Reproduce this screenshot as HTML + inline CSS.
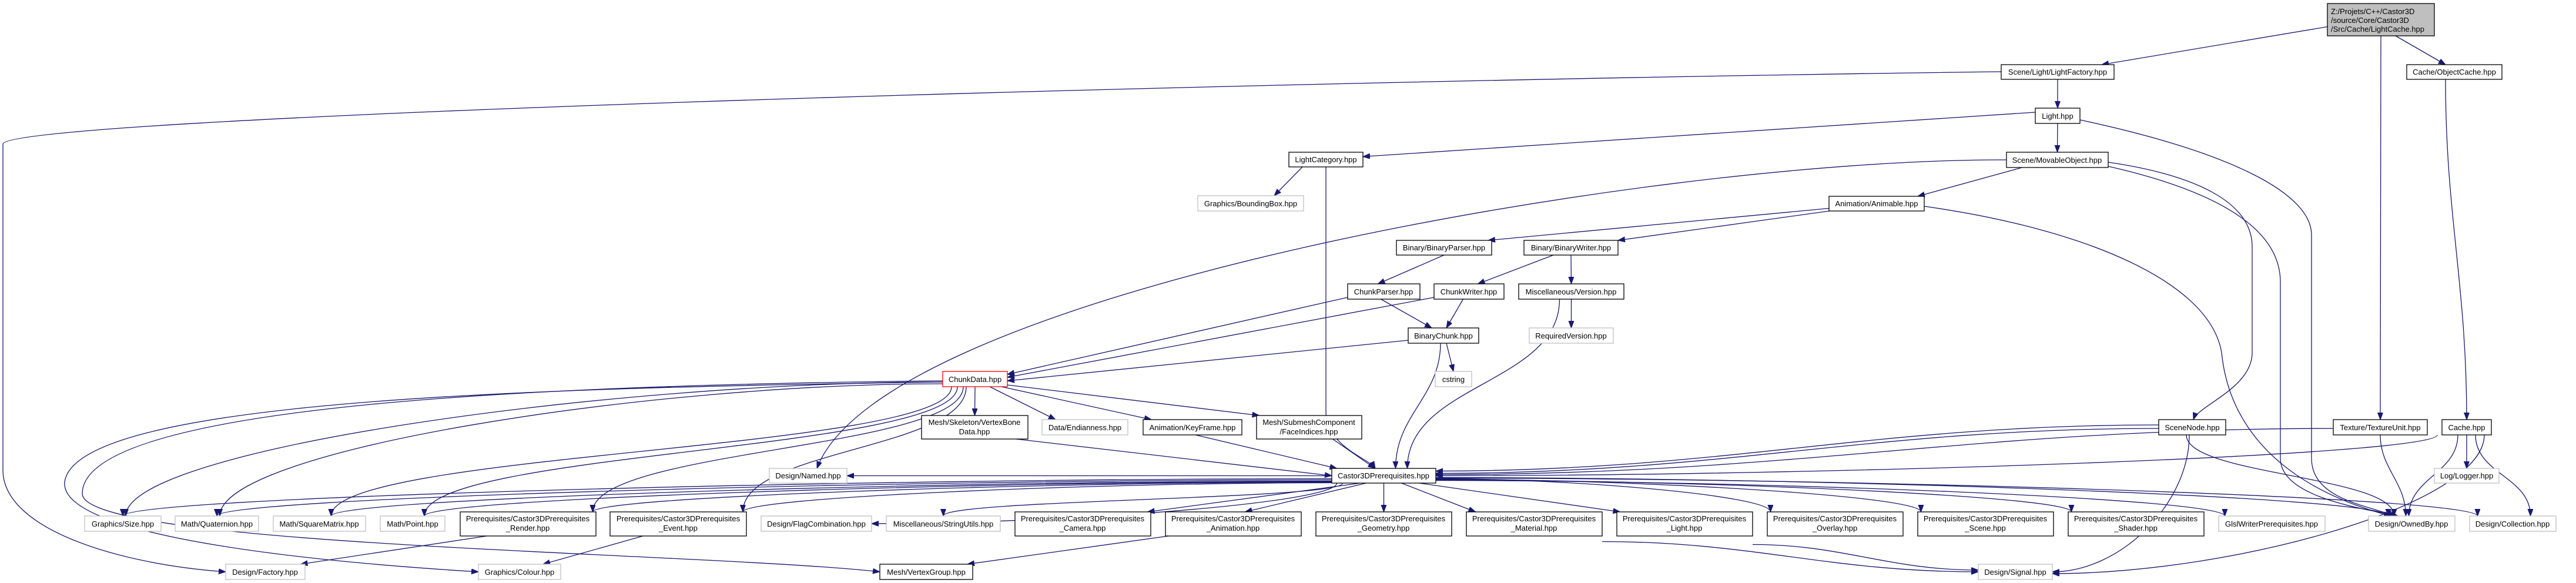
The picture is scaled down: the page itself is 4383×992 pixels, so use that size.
<!DOCTYPE html>
<html><head><meta charset="utf-8"><style>
html,body{margin:0;padding:0;background:#fff;width:4383px;height:992px;overflow:hidden}
svg{display:block;overflow:hidden}
text{font-family:"Liberation Sans",Arial,sans-serif;font-size:13px;fill:#000;text-anchor:middle}
.n{fill:#fff;stroke:#000;stroke-width:1.3}
.g{fill:#fff;stroke:#bfbfbf;stroke-width:1.3}
.r{fill:#fff;stroke:#ff0000;stroke-width:1.3}
.root{fill:#bfbfbf;stroke:#000;stroke-width:1.3}
.e{fill:none;stroke:#191970;stroke-width:1.3}
</style></head><body>
<svg id="s" width="4383" height="992" viewBox="0 0 4383 992" xmlns="http://www.w3.org/2000/svg">
<defs><marker id="a" markerUnits="userSpaceOnUse" markerWidth="13" markerHeight="10" refX="12" refY="4.5" orient="auto"><path d="M0,0 L12,4.5 L0,9 z" fill="#191970" stroke="#191970"/></marker></defs>
<g id="edges"></g>
<g id="nodes">
<rect class="root" x="3960" y="6" width="182" height="55"/>
<text x="3966" y="24" style="text-anchor:start">Z:/Projets/C++/Castor3D</text>
<text x="3966" y="39" style="text-anchor:start">/source/Core/Castor3D</text>
<text x="3966" y="54" style="text-anchor:start">/Src/Cache/LightCache.hpp</text>

<rect class="n" x="3405" y="110" width="192" height="25"/><text x="3501" y="127">Scene/Light/LightFactory.hpp</text>
<rect class="n" x="4095" y="110" width="162" height="25"/><text x="4176" y="127">Cache/ObjectCache.hpp</text>
<rect class="n" x="3463" y="184" width="76" height="26"/><text x="3501" y="202">Light.hpp</text>
<rect class="n" x="3414" y="259" width="173" height="26"/><text x="3500" y="277">Scene/MovableObject.hpp</text>
<rect class="n" x="2193" y="259" width="126" height="25"/><text x="2256" y="276">LightCategory.hpp</text>
<rect class="g" x="2038" y="333" width="180" height="26"/><text x="2128" y="351">Graphics/BoundingBox.hpp</text>
<rect class="n" x="3112" y="334" width="162" height="25"/><text x="3193" y="351">Animation/Animable.hpp</text>
<rect class="n" x="2376" y="409" width="162" height="25"/><text x="2457" y="426">Binary/BinaryParser.hpp</text>
<rect class="n" x="2593" y="409" width="160" height="25"/><text x="2673" y="426">Binary/BinaryWriter.hpp</text>
<rect class="n" x="2293" y="483" width="123" height="26"/><text x="2354" y="501">ChunkParser.hpp</text>
<rect class="n" x="2440" y="483" width="119" height="26"/><text x="2499" y="501">ChunkWriter.hpp</text>
<rect class="n" x="2584" y="483" width="179" height="26"/><text x="2673" y="501">Miscellaneous/Version.hpp</text>
<rect class="n" x="2396" y="558" width="120" height="26"/><text x="2456" y="576">BinaryChunk.hpp</text>
<rect class="g" x="2602" y="558" width="143" height="26"/><text x="2673" y="576">RequiredVersion.hpp</text>
<rect class="g" x="2442" y="632" width="62" height="26"/><text x="2473" y="650">cstring</text>
<rect class="r" x="1604" y="632" width="110" height="26"/><text x="1659" y="650">ChunkData.hpp</text>

<rect class="n" x="1568" y="707" width="181" height="40"/><text x="1658" y="723">Mesh/Skeleton/VertexBone</text><text x="1658" y="739">Data.hpp</text>
<rect class="g" x="1773" y="714" width="146" height="26"/><text x="1846" y="732">Data/Endianness.hpp</text>
<rect class="n" x="1945" y="714" width="168" height="26"/><text x="2029" y="732">Animation/KeyFrame.hpp</text>
<rect class="n" x="2138" y="707" width="179" height="40"/><text x="2227" y="723">Mesh/SubmeshComponent</text><text x="2227" y="739">/FaceIndices.hpp</text>
<rect class="n" x="3673" y="714" width="114" height="26"/><text x="3730" y="732">SceneNode.hpp</text>
<rect class="n" x="3970" y="714" width="160" height="26"/><text x="4050" y="732">Texture/TextureUnit.hpp</text>
<rect class="n" x="4155" y="714" width="84" height="26"/><text x="4197" y="732">Cache.hpp</text>

<rect class="g" x="1309" y="797" width="132" height="25"/><text x="1375" y="814">Design/Named.hpp</text>
<rect class="n" x="2266" y="797" width="177" height="25"/><text x="2354" y="814">Castor3DPrerequisites.hpp</text>
<rect class="g" x="4142" y="797" width="110" height="25"/><text x="4197" y="814">Log/Logger.hpp</text>

<rect class="g" x="144" y="878" width="130" height="26"/><text x="209" y="896">Graphics/Size.hpp</text>
<rect class="g" x="298" y="878" width="142" height="26"/><text x="369" y="896">Math/Quaternion.hpp</text>
<rect class="g" x="465" y="878" width="157" height="26"/><text x="543" y="896">Math/SquareMatrix.hpp</text>
<rect class="g" x="647" y="878" width="110" height="26"/><text x="702" y="896">Math/Point.hpp</text>
<rect class="n" x="783" y="871" width="231" height="41"/><text x="898" y="887">Prerequisites/Castor3DPrerequisites</text><text x="898" y="903">_Render.hpp</text>
<rect class="n" x="1038" y="871" width="232" height="41"/><text x="1154" y="887">Prerequisites/Castor3DPrerequisites</text><text x="1154" y="903">_Event.hpp</text>
<rect class="g" x="1295" y="878" width="188" height="26"/><text x="1389" y="896">Design/FlagCombination.hpp</text>
<rect class="g" x="1508" y="878" width="194" height="26"/><text x="1605" y="896">Miscellaneous/StringUtils.hpp</text>
<rect class="n" x="1727" y="871" width="231" height="41"/><text x="1842" y="887">Prerequisites/Castor3DPrerequisites</text><text x="1842" y="903">_Camera.hpp</text>
<rect class="n" x="1983" y="871" width="231" height="41"/><text x="2098" y="887">Prerequisites/Castor3DPrerequisites</text><text x="2098" y="903">_Animation.hpp</text>
<rect class="n" x="2239" y="871" width="231" height="41"/><text x="2354" y="887">Prerequisites/Castor3DPrerequisites</text><text x="2354" y="903">_Geometry.hpp</text>
<rect class="n" x="2495" y="871" width="231" height="41"/><text x="2610" y="887">Prerequisites/Castor3DPrerequisites</text><text x="2610" y="903">_Material.hpp</text>
<rect class="n" x="2751" y="871" width="231" height="41"/><text x="2866" y="887">Prerequisites/Castor3DPrerequisites</text><text x="2866" y="903">_Light.hpp</text>
<rect class="n" x="3007" y="871" width="231" height="41"/><text x="3122" y="887">Prerequisites/Castor3DPrerequisites</text><text x="3122" y="903">_Overlay.hpp</text>
<rect class="n" x="3263" y="871" width="231" height="41"/><text x="3378" y="887">Prerequisites/Castor3DPrerequisites</text><text x="3378" y="903">_Scene.hpp</text>
<rect class="n" x="3519" y="871" width="231" height="41"/><text x="3634" y="887">Prerequisites/Castor3DPrerequisites</text><text x="3634" y="903">_Shader.hpp</text>
<rect class="g" x="3775" y="878" width="181" height="26"/><text x="3865" y="896">GlslWriterPrerequisites.hpp</text>
<rect class="g" x="4030" y="878" width="147" height="26"/><text x="4103" y="896">Design/OwnedBy.hpp</text>
<rect class="g" x="4202" y="878" width="147" height="26"/><text x="4275" y="896">Design/Collection.hpp</text>

<rect class="g" x="384" y="960" width="135" height="26"/><text x="451" y="978">Design/Factory.hpp</text>
<rect class="g" x="814" y="960" width="140" height="26"/><text x="884" y="978">Graphics/Colour.hpp</text>
<rect class="n" x="1497" y="960" width="158" height="26"/><text x="1576" y="978">Mesh/VertexGroup.hpp</text>
<rect class="g" x="3366" y="960" width="126" height="26"/><text x="3429" y="978">Design/Signal.hpp</text>
</g>
</svg>
<script>
var N={root:[3960,6,4142,61],LF:[3405,110,3597,135],OC:[4095,110,4257,135],Light:[3463,184,3539,210],MO:[3414,259,3587,285],LC:[2193,259,2319,284],BB:[2038,333,2218,359],Anim:[3112,334,3274,359],BP:[2376,409,2538,434],BW:[2593,409,2753,434],CP:[2293,483,2416,509],CW:[2440,483,2559,509],MV:[2584,483,2763,509],BC:[2396,558,2516,584],RV:[2602,558,2745,584],cs:[2442,632,2504,658],CD:[1604,632,1714,658],VBD:[1568,707,1749,747],End:[1773,714,1919,740],KF:[1945,714,2113,740],FI:[2138,707,2317,747],SN:[3673,714,3787,740],TU:[3970,714,4130,740],Cache:[4155,714,4239,740],Named:[1309,797,1441,822],C3D:[2266,797,2443,822],Logger:[4142,797,4252,822],Size:[144,878,274,904],Quat:[298,878,440,904],SqM:[465,878,622,904],Point:[647,878,757,904],Render:[783,871,1014,912],Event:[1038,871,1270,912],Flag:[1295,878,1483,904],StrU:[1508,878,1702,904],Cam:[1727,871,1958,912],AnimP:[1983,871,2214,912],Geo:[2239,871,2470,912],Mat:[2495,871,2726,912],LightP:[2751,871,2982,912],Overlay:[3007,871,3238,912],Scene:[3263,871,3494,912],Shader:[3519,871,3750,912],Glsl:[3775,878,3956,904],Owned:[4030,878,4177,904],Coll:[4202,878,4349,904],Factory:[384,960,519,986],Colour:[814,960,954,986],VG:[1497,960,1655,986],Signal:[3366,960,3492,986]};
function A(n,s){var b=N[n],cx=(b[0]+b[2])/2,cy=(b[1]+b[3])/2,o=parseFloat(s.slice(1))||0;
 switch(s[0]){case'b':return[cx+o,b[3],0,1];case't':return[cx+o,b[1],0,-1];case'l':return[b[0],cy+o,-1,0];case'r':return[b[2],cy+o,1,0];}}
var E=[
['root','LF','l+12','t+75',1],['root','OC','b+25','t-15',1],['root','TU','b','t',1],['OC','Cache','b-15','t'],
['LF','Light','b','t',1],['Light','LC','l-6','r-5',1],['Light','MO','b','t',1],
['MO','Anim','b-60','t+70',1],['LC','BB','b-40','t+40',1],
['Anim','BP','l+8','t+75',1],['Anim','BW','b-80','t+80',1],
['BP','CP','b','t-10',1],['BW','CW','b-30','t+15',1],['BW','MV','b','t',1],
['CP','CD','l+10','r-8',1],['CP','BC','b-5','t-20',1],['CW','CD','l+10','r-3',1],['CW','BC','b-10','t+5',1],
['MV','RV','b','t',1],['MV','C3D','b-20','t+40'],['BC','CD','l+8','r+3',1],['BC','cs','b+5','t',1],['BC','C3D','b-5','t+20'],
['CD','VBD','b','t',1],['CD','End','b+25','t-50',1],['CD','KF','b+45','t-70',1],['CD','FI','r+10','t-85',1],
['CD','Size','l+5','t+5'],['CD','Quat','l+8','t+5'],['CD','SqM','b-40','t+20'],['CD','Point','b-30','t+20'],['CD','Render','b-20','t+110'],['CD','Event','b-15','t+110'],
['VBD','C3D','b+70','l',1],['KF','C3D','b+5','t-80',1],['FI','C3D','b+40','t-15',1],
['C3D','Named','l','r',1],['C3D','Size','l+5','t'],['C3D','Quat','l+7','t'],['C3D','SqM','l+9','t+20'],['C3D','Point','l+10','t+20'],['C3D','Render','l+11','t+110'],['C3D','Event','l+12','t+110'],['C3D','Flag','b-80','r'],['C3D','StrU','b-70','t'],
['C3D','Cam','b-40','t+110',1],['C3D','AnimP','b-30','t+20',1],['C3D','Geo','b','t',1],['C3D','Mat','b+30','t-100',1],['C3D','LightP','b+60','t-110',1],
['C3D','Overlay','r+5','t-110'],['C3D','Scene','r+6','t-110'],['C3D','Shader','r+7','t-110'],['C3D','Glsl','r+8','t-80'],['C3D','Owned','r+3','t-40'],['C3D','Coll','r+4','t-60'],
['Render','Factory','b-70','t+60',1],['Event','Colour','b-60','t+40',1],['AnimP','VG','b-110','t+70',1],['Mat','Signal','r+30','l'],['LightP','Signal','r+35','l-3'],
['SN','C3D','l-4','r-8'],['SN','C3D','l+2','r-4'],['SN','Owned','b-10','t-30'],['SN','Signal','b-5','r'],
['TU','C3D','l+2','r-2'],['TU','Owned','b','t-10'],
['Cache','C3D','b-50','r'],['Cache','Owned','b-15','t-5'],['Cache','Logger','b','t',1],['Cache','Coll','b+15','t+30'],['Cache','Signal','b+30','r+3']
];
function K(p,q,d){var k=p[3]?Math.abs(q[1]-p[1])*0.5:Math.abs(q[0]-p[0])*0.5;return Math.max(8,Math.min(d,k));}
var s='';
E.forEach(function(e){var p=A(e[0],e[2]),q=A(e[1],e[3]);
 if(e[4]){s+='<path class="e" marker-end="url(#a)" d="M'+p[0]+','+p[1]+' L'+q[0]+','+q[1]+'"/>';return;}
 var d=Math.hypot(q[0]-p[0],q[1]-p[1])*0.4,k0=K(p,q,d),k1=K(q,p,d);
 s+='<path class="e" marker-end="url(#a)" d="M'+p[0]+','+p[1]+' C'+(p[0]+p[2]*k0)+','+(p[1]+p[3]*k0)+' '+(q[0]+q[2]*k1)+','+(q[1]+q[3]*k1)+' '+q[0]+','+q[1]+'"/>';});
var C=[
'M3405,122 C2000,140 10,200 5,245 L5,800 C5,900 200,960 384,973',
'M3539,204 C3800,260 3933,330 3933,400 L3933,780 C3933,850 4030,860 4075,878',
'M3414,272 C2800,270 1500,500 1390,797',
'M3587,276 C3750,300 3832,350 3832,420 L3832,600 C3832,660 3740,690 3732,714',
'M3587,283 C3750,320 3880,380 3880,480 L3880,780 C3880,850 4040,868 4080,878',
'M3274,351 C3550,390 3760,480 3780,600 C3800,800 4000,860 4068,878',
'M2256,284 L2256,700 C2256,760 2330,780 2340,797',
'M1604,650 C900,660 130,680 110,820 C100,920 600,960 814,973',
'M1604,648 C900,655 140,690 140,840 C140,930 1200,940 1497,973'
];
C.forEach(function(d){s+='<path class="e" marker-end="url(#a)" d="'+d+'"/>';});
document.getElementById('edges').innerHTML=s;
</script>
</body></html>
